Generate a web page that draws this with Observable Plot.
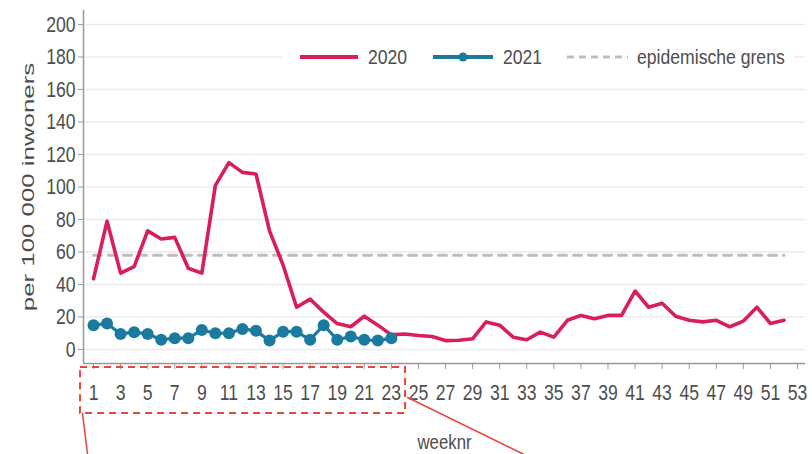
<!DOCTYPE html>
<html><head><meta charset="utf-8">
<script src="https://cdn.jsdelivr.net/npm/d3@7"></script>
<script src="https://cdn.jsdelivr.net/npm/@observablehq/plot@0.6"></script>
<style>
body{margin:0;background:#fff;}
#wrap{position:relative;width:812px;height:454px;overflow:hidden;font-family:"Liberation Sans",Arial,sans-serif;}
.legend{position:absolute;left:282px;top:44px;width:512px;height:26px;background:#fff;color:#4d4d4d;font-size:20px;}
.legend .it{position:absolute;top:0;height:26px;line-height:26px;transform:scaleX(0.88);transform-origin:left center;white-space:nowrap;}
.legend svg{position:absolute;top:0;}
</style></head><body><div id="wrap"></div>
<script>
const weeks = [1,2,3,4,5,6,7,8,9,10,11,12,13,14,15,16,17,18,19,20,21,22,23,24,25,26,27,28,29,30,31,32,33,34,35,36,37,38,39,40,41,42,43,44,45,46,47,48,49,50,51,52];
const values2020 = [43.5,79,47,51,73,68,69,50,47,101,115,109,108,73,52,26,31,23,16,14,20.5,15,9,9.6,8.6,8,5.5,5.7,6.6,17,15,7.6,6,10.7,7.6,18,21,19,21,21,36,26,28.5,20.5,18,17,18,14,17.5,26,16,18];
const weeks2021 = [1,2,3,4,5,6,7,8,9,10,11,12,13,14,15,16,17,18,19,20,21,22,23];
const values2021 = [15,16,9.6,10.7,9.6,6,7,7,12,10,10,12.7,11.5,5.5,11,11,6,15,6,8,6,5.5,7];
const threshold = 58;
const thresholdWeeks = [1, 52];
const yTicks = [0,20,40,60,80,100,120,140,160,180,200];
const xTicks = [1,3,5,7,9,11,13,15,17,19,21,23,25,27,29,31,33,35,37,39,41,43,45,47,49,51,53];
const xDomain = [0.26, 53.59];
const yDomain = [-8.6, 208.6];
const yLabel = "per 100 000 inwoners";
const xLabel = "weeknr";
const seriesNames = ["2020", "2021", "epidemische grens"];
// annotation box (week, value units)
const annoBox = [{x1: 0.04, x2: 24.05, y1: -11.1, y2: -39.4}];
const annoLines = [
  [{x: 0.19, y: -39.4}, {x: 0.56, y: -64.6}],
  [{x: 24.2, y: -29.5}, {x: 32.8, y: -64.6}]
];

const c2020 = "#d81f5c", c2021 = "#1a7aa0", cGrey = "#bdbdbd", cText = "#4d4d4d";

const d2020 = weeks.map((w,i)=>({w, v: values2020[i]}));
const d2021 = weeks2021.map((w,i)=>({w, v: values2021[i]}));
const dThr = thresholdWeeks.map(w=>({w, v: threshold}));

const chart = Plot.plot({
  width: 812, height: 454,
  marginLeft: 83, marginRight: 7, marginTop: 10, marginBottom: 91,
  style: {fontFamily: '"Liberation Sans",Arial,sans-serif', fontSize: "22px", color: cText, background: "#fff", overflow: "visible"},
  x: {domain: xDomain, axis: null},
  y: {domain: yDomain, axis: null},
  marks: [
    Plot.ruleY(yTicks, {stroke: "#ebebeb", strokeWidth: 1.5}),
    Plot.lineY(dThr, {x: "w", y: "v", stroke: cGrey, strokeWidth: 3, strokeDasharray: "8,7"}),
    Plot.lineY(d2020, {x: "w", y: "v", stroke: c2020, strokeWidth: 3.6}),
    Plot.lineY(d2021, {x: "w", y: "v", stroke: c2021, strokeWidth: 3.2}),
    Plot.dot(d2021, {x: "w", y: "v", fill: c2021, r: 6}),
    Plot.ruleX([xDomain[0]], {stroke: "#999", strokeWidth: 1.5}),
    Plot.ruleY([yDomain[0]], {stroke: "#999", strokeWidth: 1.5}),
    Plot.axisY({ticks: yTicks, tickSize: 5, tickPadding: 3, stroke: "#999", label: null, fill: cText, fontSize: 22}),
    Plot.axisX({ticks: xTicks, tickSize: 6, tickPadding: 15, stroke: "#999", label: null, fill: cText, fontSize: 22}),
    Plot.text([yLabel], {frameAnchor: "left", dx: -55, rotate: -90, textAnchor: "middle", fontSize: 17, fill: cText}),
    Plot.text([xLabel], {frameAnchor: "bottom", dy: 85, fontSize: 21, fill: cText}),
    Plot.rect(annoBox, {x1: "x1", x2: "x2", y1: "y1", y2: "y2", fill: "none", stroke: "#e8463a", strokeWidth: 2, strokeDasharray: "7,5"}),
    ...annoLines.map(l => Plot.line(l, {x: "x", y: "y", stroke: "#e8463a", strokeWidth: 1.5}))
  ]
});
const wrap = document.getElementById("wrap");
wrap.appendChild(chart);

// scale text along its own direction around its anchor (x only; y attributes untouched)
function scaleText(t, s) {
  const xa = parseFloat(t.getAttribute("x"));
  const x = isFinite(xa) ? xa : 0;
  const tr = t.getAttribute("transform") || "";
  t.setAttribute("transform", `${tr} translate(${x},0) scale(${s},1) translate(${-x},0)`);
}
chart.querySelectorAll('g[aria-label="y-axis tick label"] text').forEach(t => scaleText(t, 0.8));
chart.querySelectorAll('g[aria-label="x-axis tick label"] text').forEach(t => scaleText(t, 0.8));
chart.querySelectorAll('text').forEach(t => {
  if (t.textContent === xLabel) scaleText(t, 0.8);
  if (t.textContent === yLabel) scaleText(t, 1.52);
});

const lg = document.createElement("div");
lg.className = "legend";
lg.innerHTML = `
<svg style="left:18px" width="60" height="26"><line x1="0" y1="13" x2="58" y2="13" stroke="${c2020}" stroke-width="4"/></svg>
<span class="it" style="left:86px">${seriesNames[0]}</span>
<svg style="left:151px" width="62" height="26"><line x1="0" y1="13" x2="60" y2="13" stroke="${c2021}" stroke-width="4"/><circle cx="30" cy="13" r="4.5" fill="${c2021}"/></svg>
<span class="it" style="left:221px">${seriesNames[1]}</span>
<svg style="left:285px" width="62" height="26"><line x1="0" y1="13" x2="61" y2="13" stroke="${cGrey}" stroke-width="3" stroke-dasharray="7,5"/></svg>
<span class="it" style="left:355px">${seriesNames[2]}</span>`;
wrap.appendChild(lg);
</script>
</body></html>
